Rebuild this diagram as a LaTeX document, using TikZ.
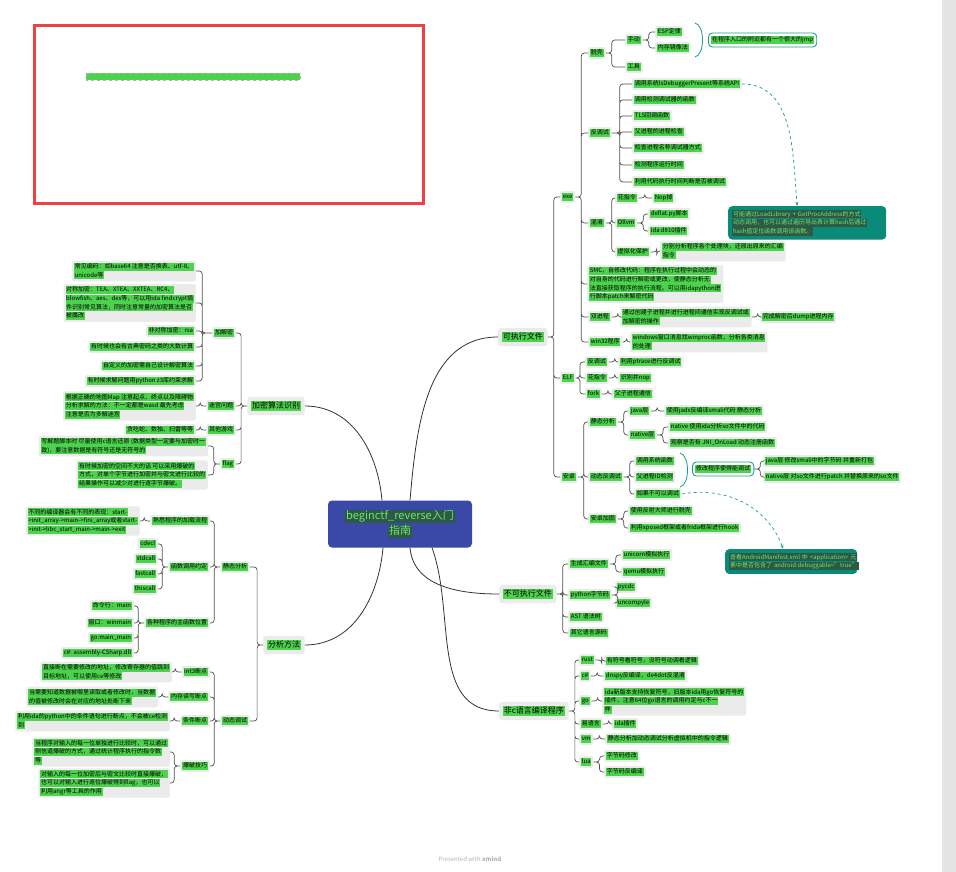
\documentclass[tikz,border=0pt]{standalone}
\usepackage{fontspec}
\setmainfont{Noto Sans CJK SC}
\usetikzlibrary{arrows.meta,positioning}

\definecolor{hl}{HTML}{4CD24C}
\definecolor{hldark}{HTML}{2C5A45}
\definecolor{hltext}{HTML}{6FE36F}
\definecolor{nodebg}{HTML}{EBEBEB}
\definecolor{hubblue}{HTML}{3A48A8}
\definecolor{notefill}{HTML}{0A8A78}
\definecolor{noteline}{HTML}{1A9E8C}
\definecolor{linegray}{HTML}{505050}
\definecolor{framered}{HTML}{EE4242}

\newcommand{\tinyfs}{\fontsize{6}{8.6}\selectfont}
\newcommand{\hl}[1]{{\setlength{\fboxsep}{0.7pt}\colorbox{hl}{\vphantom{Ag国}#1}}}
\newcommand{\hlc}[1]{{\setlength{\fboxsep}{0.8pt}\colorbox{hldark}{\color{hltext}\vphantom{Ag国}#1}}}

\begin{document}
\begin{tikzpicture}[x=1pt, y=-1pt,
    item/.style={fill=nodebg, rounded corners=2pt, inner sep=2pt, align=left, font=\tinyfs},
    topic/.style={fill=nodebg, rounded corners=3pt, inner sep=4pt, font=\fontsize{8}{10}\selectfont},
    hub/.style={fill=hubblue, rounded corners=4pt, align=center, minimum width=144pt, minimum height=47pt, font=\fontsize{11}{15}\selectfont},
    note/.style={fill=notefill, rounded corners=4pt, inner sep=4pt, align=left, font=\tinyfs},
    memo/.style={draw=noteline, line width=0.9pt, fill=white, rounded corners=4pt, inner sep=3pt, font=\tinyfs},
    branch/.style={draw=black!80, line width=0.8pt},
    rlink/.style={draw=linegray, line width=0.7pt, rounded corners=3pt, to path={-- ++(#1,0) |- (\tikztotarget)}},
    rlink/.default=6,
    llink/.style={draw=linegray, line width=0.7pt, rounded corners=3pt, to path={-- ++(-#1,0) |- (\tikztotarget)}},
    llink/.default=6,
    brace/.style={draw=noteline, line width=0.8pt},
    tiplink/.style={draw=noteline, line width=0.7pt, dashed, -{Stealth[length=4pt]}}
  ]
    \useasboundingbox (0,0) rectangle (956,872);
    \fill[white] (0,0) rectangle (956,872);
    \fill[black!10] (942,0) rectangle (956,872);

    % empty frame top left
    \draw[framered, line width=3pt] (34,26) rectangle (423,203);
    \draw[gray!60, dashed, line width=0.4pt, fill=hl] (86,73) rectangle (300,80);

    % centre and main topics
    \node[hub] (hub) at (400,524) {\hlc{beginctf\_reverse入门}\\\hlc{指南}};
    \node[topic, anchor=west] (exec) at (498,337) {\hl{可执行文件}};
    \node[topic, anchor=west] (nonexec) at (499,594) {\hl{不可执行文件}};
    \node[topic, anchor=west] (nonc) at (499,711) {\hl{非c语言编译程序}};
    \node[topic] (crypto) at (276,406) {\hl{加密算法识别}};
    \node[topic] (analysis) at (284,645) {\hl{分析方法}};

    \draw[branch] ([xshift=10pt]hub.north) to[out=85,in=180] (exec.west);
    \draw[branch] ([xshift=-18pt]hub.north) to[out=95,in=0] (crypto.east);
    \draw[branch] ([xshift=-17pt]hub.south) to[out=-95,in=0] (analysis.east);
    \draw[branch] ([xshift=10pt]hub.south) to[out=-85,in=180] (nonexec.west);
    \draw[branch] ([xshift=32pt]hub.south) to[out=-70,in=180] (nonc.west);

    % executable files
    \node[item, anchor=west] (exe) at (560,197) {\hl{exe}};
    \node[item, anchor=west] (elf) at (560,378) {\hl{ELF}};
    \node[item, anchor=west] (apk) at (560,477) {\hl{安卓}};
    \draw[rlink] (exec.east) to (exe.west) (exec.east) to (elf.west) (exec.east) to (apk.west);

    \node[item, anchor=west] (unpack) at (588,53) {\hl{脱壳}};
    \node[item, anchor=west] (antidbg) at (588,133) {\hl{反调试}};
    \node[item, anchor=west] (obf) at (588,223) {\hl{混淆}};
    \node[item, anchor=west] (smc) at (587,284) {\hl{SMC，自修改代码：程序在执行过程中会动态的}\\\hl{对自身的代码进行解密或更改，使静态分析无}\\\hl{法直接获取程序的执行流程。可以用idapython进}\\\hl{行脚本patch来解密代码}};
    \node[item, anchor=west] (dualproc) at (588,317) {\hl{双进程}};
    \node[item, anchor=west] (win32) at (588,342) {\hl{win32程序}};
    \draw[rlink] (exe.east) to (unpack.west) (exe.east) to (antidbg.west) (exe.east) to (obf.west)
                 (exe.east) to (smc.west) (exe.east) to (dualproc.west) (exe.east) to (win32.west);

    \node[item, anchor=west] (manual) at (625,40) {\hl{手动}};
    \node[item, anchor=west] (tool) at (625,67) {\hl{工具}};
    \node[item, anchor=west] (esp) at (655,32) {\hl{ESP定律}};
    \node[item, anchor=west] (memimg) at (655,48) {\hl{内存镜像法}};
    \draw[rlink] (unpack.east) to (manual.west) (unpack.east) to (tool.west);
    \draw[rlink] (manual.east) to (esp.west) (manual.east) to (memimg.west);
    \coordinate (jb1) at (695,23);
    \coordinate (jb2) at (695,57);
    \draw[brace] (jb1) .. controls (705,25) and (705,55) .. (jb2);
    \node[memo, anchor=west] (jmpnote) at (708,40) {\hl{在程序入口的附近都有一个很大的jmp}};

    \node[item, anchor=west] (ad1) at (632,84) {\hl{调用系统IsDebuggerPresent等系统API}};
    \node[item, anchor=west] (ad2) at (632,100) {\hl{调用检测调试器的函数}};
    \node[item, anchor=west] (ad3) at (632,116) {\hl{TLS回调函数}};
    \node[item, anchor=west] (ad4) at (632,132) {\hl{父进程的进程检查}};
    \node[item, anchor=west] (ad5) at (632,148) {\hl{检查进程名称调试器方式}};
    \node[item, anchor=west] (ad6) at (632,165) {\hl{检测程序运行时间}};
    \node[item, anchor=west] (ad7) at (632,182) {\hl{利用代码执行时间判断是否被调试}};
    \draw[rlink=8] (antidbg.east) to (ad1.west) (antidbg.east) to (ad2.west) (antidbg.east) to (ad3.west)
                   (antidbg.east) to (ad4.west) (antidbg.east) to (ad5.west) (antidbg.east) to (ad6.west)
                   (antidbg.east) to (ad7.west);
    \node[note, anchor=north west, text width=150pt] (dbgnote) at (728,206) {\hlc{可能通过LoadLibrary + GetProcAddress的方式}\\\hlc{动态调用，也可以通过遍历导出表计算hash后通过}\\\hlc{hash值定位函数调用该函数。}};
    \draw[tiplink] (ad1.east) to[out=0,in=95] ([xshift=-10pt]dbgnote.north);

    \node[item, anchor=west] (junk) at (615,198) {\hl{花指令}};
    \node[item, anchor=west] (ollvm) at (615,223) {\hl{Ollvm}};
    \node[item, anchor=west] (vmp) at (615,252) {\hl{虚拟化保护}};
    \draw[rlink] (obf.east) to (junk.west) (obf.east) to (ollvm.west) (obf.east) to (vmp.west);
    \node[item, anchor=west] (nop) at (652,198) {\hl{Nop掉}};
    \node[item, anchor=west] (deflat) at (648,214) {\hl{deflat.py脚本}};
    \node[item, anchor=west] (d810) at (648,231) {\hl{ida d810插件}};
    \node[item, anchor=west] (vmnote) at (660,251) {\hl{分别分析程序各个处理块，还原出原来的汇编}\\\hl{指令}};
    \draw[rlink] (junk.east) to (nop.west);
    \draw[rlink] (ollvm.east) to (deflat.west) (ollvm.east) to (d810.west);
    \draw[rlink] (vmp.east) to (vmnote.west);

    \node[item, anchor=west] (procnote) at (620,317) {\hl{通过创建子进程并进行进程间通信实现反调试或}\\\hl{加解密的操作}};
    \node[item, anchor=west] (dumpnote) at (760,317) {\hl{完成解密后dump进程内存}};
    \node[item, anchor=west] (win32note) at (630,342) {\hl{windows窗口消息找winproc函数，分析各类消息}\\\hl{的处理}};
    \draw[rlink] (dualproc.east) to (procnote.west);
    \draw[rlink] (procnote.east) to (dumpnote.west);
    \draw[rlink=4] (win32.east) to (win32note.west);

    \node[item, anchor=west] (elfad) at (585,362) {\hl{反调试}};
    \node[item, anchor=west] (elfjunk) at (585,378) {\hl{花指令}};
    \node[item, anchor=west] (fork) at (585,394) {\hl{fork}};
    \draw[rlink=4] (elf.east) to (elfad.west) (elf.east) to (elfjunk.west) (elf.east) to (fork.west);
    \node[item, anchor=west] (ptrace) at (618,362) {\hl{利用ptrace进行反调试}};
    \node[item, anchor=west] (nopit) at (618,378) {\hl{识别并nop}};
    \node[item, anchor=west] (pipe) at (612,394) {\hl{父子进程通信}};
    \draw[rlink] (elfad.east) to (ptrace.west);
    \draw[rlink] (elfjunk.east) to (nopit.west);
    \draw[rlink] (fork.east) to (pipe.west);

    \node[item, anchor=west] (static) at (588,422) {\hl{静态分析}};
    \node[item, anchor=west] (dyn) at (588,477) {\hl{动态反调试}};
    \node[item, anchor=west] (pack) at (588,519) {\hl{安卓加固}};
    \draw[rlink] (apk.east) to (static.west) (apk.east) to (dyn.west) (apk.east) to (pack.west);

    \node[item, anchor=west] (javal) at (628,411) {\hl{java层}};
    \node[item, anchor=west] (nativel) at (628,435) {\hl{native层}};
    \draw[rlink] (static.east) to (javal.west) (static.east) to (nativel.west);
    \node[item, anchor=west] (jadx) at (664,411) {\hl{使用jadx反编译smali代码 静态分析}};
    \node[item, anchor=west] (soida) at (668,427) {\hl{native 使用ida分析so文件中的代码}};
    \node[item, anchor=west] (jnionload) at (668,443) {\hl{观察是否有 JNI\_OnLoad 动态注册函数}};
    \draw[rlink] (javal.east) to (jadx.west);
    \draw[rlink] (nativel.east) to (soida.west) (nativel.east) to (jnionload.west);

    \node[item, anchor=west] (syscall) at (634,461) {\hl{调用系统函数}};
    \node[item, anchor=west] (ppid) at (634,477) {\hl{父进程ID检测}};
    \node[item, anchor=west] (ifnot) at (634,494) {\hl{如果不可以调试}};
    \draw[rlink] (dyn.east) to (syscall.west) (dyn.east) to (ppid.west) (dyn.east) to (ifnot.west);
    \coordinate (mb1) at (680,453);
    \coordinate (mb2) at (680,487);
    \draw[brace] (mb1) .. controls (690,455) and (690,485) .. (mb2);
    \node[memo, anchor=west] (modnote) at (692,469) {\hl{修改程序使得能调试}};
    \node[item, anchor=west] (smalimod) at (763,461) {\hl{java层 修改smali中的字节码 并重新打包}};
    \node[item, anchor=west] (sopatch) at (763,477) {\hl{native层 对so文件进行patch 并替换原来的so文件}};
    \draw[rlink] (modnote.east) to (smalimod.west) (modnote.east) to (sopatch.west);
    \node[note, anchor=north west, text width=124pt] (manifest) at (725,549) {\hlc{查看AndroidManifest.xml 中 <application> 元}\\\hlc{素中是否包含了 android:debuggable="true"}};
    \draw[tiplink] (ifnot.east) to[out=10,in=110] ([xshift=-8pt]manifest.north);

    \node[item, anchor=west] (reflect) at (628,511) {\hl{使用反射大师进行脱壳}};
    \node[item, anchor=west] (xposed) at (628,528) {\hl{利用xposed框架或者frida框架进行hook}};
    \draw[rlink] (pack.east) to (reflect.west) (pack.east) to (xposed.west);

    % non-executable files
    \node[item, anchor=west] (genasm) at (568,564) {\hl{生成汇编文件}};
    \node[item, anchor=west] (pyc) at (568,595) {\hl{python字节码}};
    \node[item, anchor=west] (ast) at (568,617) {\hl{AST 语法树}};
    \node[item, anchor=west] (otherlang) at (568,633) {\hl{其它语言源码}};
    \draw[rlink] (nonexec.east) to (genasm.west) (nonexec.east) to (pyc.west)
                 (nonexec.east) to (ast.west) (nonexec.east) to (otherlang.west);
    \node[item, anchor=west] (unicorn) at (621,555) {\hl{unicorn模拟执行}};
    \node[item, anchor=west] (qemu) at (621,572) {\hl{qemu模拟执行}};
    \node[item, anchor=west] (pycdc) at (615,587) {\hl{pycdc}};
    \node[item, anchor=west] (uncompyle) at (615,603) {\hl{uncompyle}};
    \draw[rlink] (genasm.east) to (unicorn.west) (genasm.east) to (qemu.west);
    \draw[rlink] (pyc.east) to (pycdc.west) (pyc.east) to (uncompyle.west);

    % non-c compiled programs
    \node[item, anchor=west] (rust) at (579,660) {\hl{rust}};
    \node[item, anchor=west] (csharp) at (579,676) {\hl{c\#}};
    \node[item, anchor=west] (golang) at (579,701) {\hl{go}};
    \node[item, anchor=west] (elang) at (579,724) {\hl{易语言}};
    \node[item, anchor=west] (vmlang) at (579,739) {\hl{vm}};
    \node[item, anchor=west] (lua) at (579,762) {\hl{lua}};
    \draw[rlink] (nonc.east) to (rust.west) (nonc.east) to (csharp.west) (nonc.east) to (golang.west)
                 (nonc.east) to (elang.west) (nonc.east) to (vmlang.west) (nonc.east) to (lua.west);
    \node[item, anchor=west] (rustnote) at (604,661) {\hl{有符号看符号，没符号动调看逻辑}};
    \node[item, anchor=west] (csnote) at (603,676) {\hl{dnspy反编译，de4dot反混淆}};
    \node[item, anchor=west] (gonote) at (602,701) {\hl{ida新版本支持恢复符号，旧版本ida用go恢复符号的}\\\hl{插件，注意64位go语言的调用约定与c不一}\\\hl{样}};
    \node[item, anchor=west] (enote) at (612,724) {\hl{ida插件}};
    \node[item, anchor=west] (vmnote2) at (605,739) {\hl{静态分析加动态调试分析虚拟机中的指令逻辑}};
    \node[item, anchor=west] (luamod) at (604,756) {\hl{字节码修改}};
    \node[item, anchor=west] (luadec) at (604,772) {\hl{字节码反编译}};
    \draw[rlink] (rust.east) to (rustnote.west);
    \draw[rlink] (csharp.east) to (csnote.west);
    \draw[rlink] (golang.east) to (gonote.west);
    \draw[rlink] (elang.east) to (enote.west);
    \draw[rlink] (vmlang.east) to (vmnote2.west);
    \draw[rlink] (lua.east) to (luamod.west) (lua.east) to (luadec.west);

    % crypto recognition
    \node[item, anchor=east] (cipher) at (236,333) {\hl{加解密}};
    \node[item, anchor=east] (maze) at (236,406) {\hl{迷宫问题}};
    \node[item, anchor=east] (game) at (236,430) {\hl{其他游戏}};
    \node[item, anchor=east] (flagn) at (236,464) {\hl{flag}};
    \draw[llink] (crypto.west) to (cipher.east) (crypto.west) to (maze.east)
                 (crypto.west) to (game.east) (crypto.west) to (flagn.east);

    \node[item, anchor=east] (encode) at (196,271) {\hl{常见编码：如base64 注意是否换表、utf-8、}\\\hl{unicode等}};
    \node[item, anchor=east] (symm) at (196,303) {\hl{对称加密：TEA、XTEA、XXTEA、RC4、}\\\hl{blowfish、aes、des等，可以用ida findcrypt插}\\\hl{件识别常见算法，同时注意常量的加密算法是否}\\\hl{被魔改}};
    \node[item, anchor=east] (rsa) at (196,331) {\hl{非对称加密：rsa}};
    \node[item, anchor=east] (bignum) at (196,347) {\hl{有时候也会有古典密码之类的大数计算}};
    \node[item, anchor=east] (custom) at (196,366) {\hl{自定义的加密需自己设计解密算法}};
    \node[item, anchor=east] (z3) at (196,381) {\hl{有时候求解问题用python z3库约束求解}};
    \draw[llink=10] (cipher.west) to (encode.east) (cipher.west) to (symm.east) (cipher.west) to (rsa.east)
                    (cipher.west) to (bignum.east) (cipher.west) to (custom.east) (cipher.west) to (z3.east);

    \node[item, anchor=east] (mazenote) at (196,406) {\hl{根据正确的地图Map 注意起点、终点以及障碍物}\\\hl{分析求解的方法：不一定都是wasd 最先考虑}\\\hl{注意是否为多解迷宫}};
    \node[item, anchor=east] (gamenote) at (196,430) {\hl{贪吃蛇、数独、扫雷等等}};
    \node[item, anchor=east] (cmpnote) at (208,446) {\hl{写解题脚本时 尽量使用c语言还原 (数据类型一定要与加密时一}\\\hl{致)，要注意数据是有符号还是无符号的}};
    \node[item, anchor=east] (brutenote) at (208,475) {\hl{有时候加密的空间不大的话 可以采用爆破的}\\\hl{方式，对单个字节进行加密并与密文进行比较的}\\\hl{结果操作可以减少对进行逐字节爆破。}};
    \draw[llink] (maze.west) to (mazenote.east);
    \draw[llink] (game.west) to (gamenote.east);
    \draw[llink] (flagn.west) to (cmpnote.east) (flagn.west) to (brutenote.east);

    % analysis methods
    \node[item, anchor=east] (stat) at (250,567) {\hl{静态分析}};
    \node[item, anchor=east] (dynamic) at (250,721) {\hl{动态调试}};
    \draw[llink] (analysis.west) to (stat.east) (analysis.west) to (dynamic.east);

    \node[item, anchor=east] (load) at (210,521) {\hl{熟悉程序的加载流程}};
    \node[item, anchor=east] (callconv) at (210,567) {\hl{函数调用约定}};
    \node[item, anchor=east] (mainpos) at (210,623) {\hl{各种程序的主函数位置}};
    \draw[llink] (stat.west) to (load.east) (stat.west) to (callconv.east) (stat.west) to (mainpos.east);
    \node[item, anchor=east] (loadnote) at (140,521) {\hl{不同的编译器会有不同的表现：start-}\\\hl{>init\_array->main->fini\_array或者start-}\\\hl{>init->libc\_start\_main->main->exit}};
    \draw[llink] (load.west) to (loadnote.east);
    \node[item, anchor=east] (cdecl) at (158,544) {\hl{cdecl}};
    \node[item, anchor=east] (stdcall) at (158,559) {\hl{stdcall}};
    \node[item, anchor=east] (fastcall) at (158,574) {\hl{fastcall}};
    \node[item, anchor=east] (thiscall) at (158,589) {\hl{thiscall}};
    \draw[llink] (callconv.west) to (cdecl.east) (callconv.west) to (stdcall.east)
                 (callconv.west) to (fastcall.east) (callconv.west) to (thiscall.east);
    \node[item, anchor=east] (cmdmain) at (134,606) {\hl{命令行：main}};
    \node[item, anchor=east] (winmain) at (134,623) {\hl{窗口：winmain}};
    \node[item, anchor=east] (gomain) at (134,638) {\hl{go:main\_main}};
    \node[item, anchor=east] (csmain) at (134,653) {\hl{c\#: assembly-CSharp.dll}};
    \draw[llink] (mainpos.west) to (cmdmain.east) (mainpos.west) to (winmain.east)
                 (mainpos.west) to (gomain.east) (mainpos.west) to (csmain.east);

    \node[item, anchor=east] (int3) at (210,672) {\hl{int3断点}};
    \node[item, anchor=east] (membp) at (210,697) {\hl{内存读写断点}};
    \node[item, anchor=east] (condbp) at (210,721) {\hl{条件断点}};
    \node[item, anchor=east] (brute) at (210,766) {\hl{爆破技巧}};
    \draw[llink] (dynamic.west) to (int3.east) (dynamic.west) to (membp.east)
                 (dynamic.west) to (condbp.east) (dynamic.west) to (brute.east);
    \node[item, anchor=east] (int3note) at (172,672) {\hl{直接断在需要修改的地址，修改寄存器的值跳到}\\\hl{目标地址，可以使用ce等修改}};
    \node[item, anchor=east] (memnote) at (158,697) {\hl{当需要知道数据被哪里读取或者修改时，当数据}\\\hl{的值被修改时会在对应的地址处断下来}};
    \node[item, anchor=east] (condnote) at (170,721) {\hl{利用ida的python中的条件语句进行断点，不会被ce检测}\\\hl{到}};
    \node[item, anchor=east] (scannote) at (170,752) {\hl{当程序对输入的每一位单独进行比较时，可以通过}\\\hl{侧信道爆破的方式，通过统计程序执行的指令数}\\\hl{等}};
    \node[item, anchor=east] (xornote) at (170,783) {\hl{对输入的每一位加密后与密文比较时直接爆破，}\\\hl{也可以对输入进行逐位爆破得到flag，也可以}\\\hl{利用angr等工具的作用}};
    \draw[llink] (int3.west) to (int3note.east);
    \draw[llink] (membp.west) to (memnote.east);
    \draw[llink] (condbp.west) to (condnote.east);
    \draw[llink] (brute.west) to (scannote.east) (brute.west) to (xornote.east);

    \node[font=\fontsize{6}{7}\selectfont, text=black!30] (footer) at (470,859) {Presented with \textbf{xmind}};
\end{tikzpicture}
\end{document}
